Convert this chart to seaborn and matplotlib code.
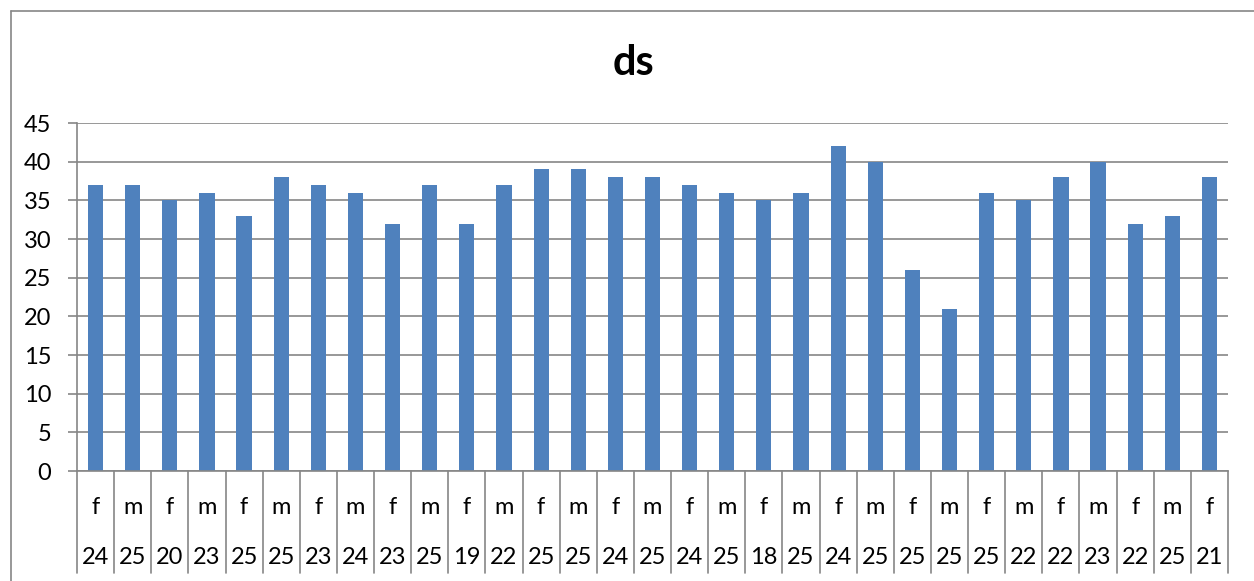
import numpy as np
import pandas as pd
import matplotlib
matplotlib.use("Agg")
import matplotlib.pyplot as plt
import matplotlib.transforms as mtransforms
from matplotlib.lines import Line2D
import seaborn as sns

# ---- data ----
title = "ds"
genders = ["f", "m", "f", "m", "f", "m", "f", "m", "f", "m", "f",
           "m", "f", "m", "f", "m", "f", "m", "f", "m", "f", "m",
           "f", "m", "f", "m", "f", "m", "f", "m", "f"]
ages = ["24", "25", "20", "23", "25", "25", "23", "24", "23", "25", "19",
        "22", "25", "25", "24", "25", "24", "25", "18", "25", "24", "25",
        "25", "25", "25", "22", "22", "23", "22", "25", "21"]
values = [37, 37, 35, 36, 33, 38, 37, 36, 32, 37, 32,
          37, 39, 39, 38, 38, 37, 36, 35, 36, 42, 40,
          26, 21, 36, 35, 38, 40, 32, 33, 38]
y_ticks = [0, 5, 10, 15, 20, 25, 30, 35, 40, 45]

sns.set_theme(style="white")
plt.rcParams['font.family'] = ['Lato', 'DejaVu Sans']

W, H = 1254, 581
fig = plt.figure(figsize=(W / 100, H / 100), dpi=100)
fig.patch.set_facecolor("white")

# plot area in pixels
left, right, top, bottom = 77, 1228, 123, 471
ax = fig.add_axes([left / W, 1 - bottom / H, (right - left) / W, (bottom - top) / H])

df = pd.DataFrame({"idx": np.arange(len(values)), "value": values})
sns.barplot(data=df, x="idx", y="value", color="#4F81BD", saturation=1,
            width=0.41, ax=ax, edgecolor="none")

FS = 17
n = len(values)
ax.set_xlim(-0.5, n - 0.5)
ax.set_ylim(0, 45)
ax.set_yticks(y_ticks)
ax.set_yticklabels([str(t) for t in y_ticks], fontsize=FS, color="black")
ax.set_xticks([])
ax.set_xlabel("")
ax.set_ylabel("")
ax.yaxis.grid(True, color="#868686", linewidth=1.2)
ax.set_axisbelow(True)
for s in ["top", "right"]:
    ax.spines[s].set_visible(False)
ax.spines["left"].set_color("#868686")
ax.spines["left"].set_linewidth(1.2)
ax.spines["bottom"].set_color("#868686")
ax.spines["bottom"].set_linewidth(1.2)
ax.tick_params(axis="y", which="both", left=True, length=6.5, width=1.2,
               color="#868686", pad=12)

# category labels and separators
ah = bottom - top
trans = mtransforms.blended_transform_factory(ax.transData, ax.transAxes)
y_g = -(507 - bottom) / ah
y_a = -(557 - bottom) / ah
y_sep = -(573 - bottom) / ah
for i in range(n):
    ax.text(i, y_g, genders[i], transform=trans, ha="center", va="center",
            fontsize=FS, color="black")
    ax.text(i, y_a, ages[i], transform=trans, ha="center", va="center",
            fontsize=FS, color="black")
for i in range(n + 1):
    ax.add_line(Line2D([i - 0.5, i - 0.5], [0, y_sep], transform=trans,
                       color="#868686", linewidth=1.2, clip_on=False))

# title
fig.text(633 / W, 1 - 63 / H, title, ha="center", va="center",
         fontsize=30, fontweight="bold", color="black")

# chart frame
fig.add_artist(Line2D([11 / W, 1.0], [1 - 11 / H, 1 - 11 / H],
                      transform=fig.transFigure, color="#868686", linewidth=1.2))
fig.add_artist(Line2D([11 / W, 11 / W], [0, 1 - 11 / H],
                      transform=fig.transFigure, color="#868686", linewidth=1.2))

fig.savefig("out.png", dpi=100)
